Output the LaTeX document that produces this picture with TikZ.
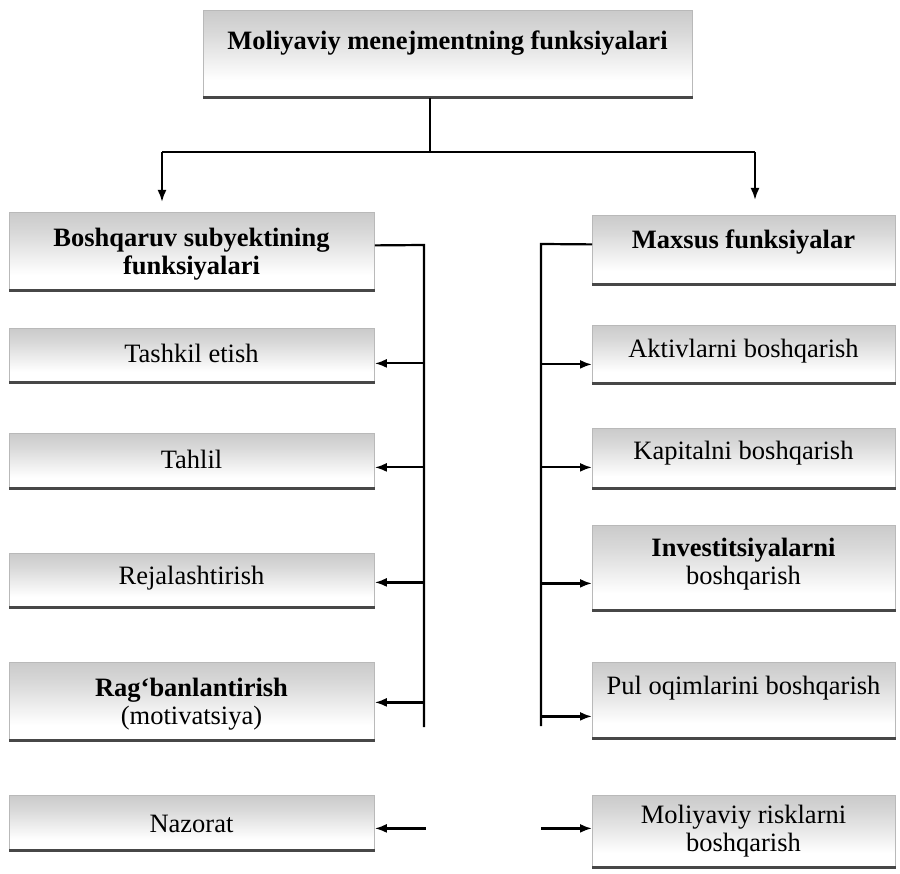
\documentclass[tikz,border=0pt]{standalone}
\usepackage{fontspec}
\setmainfont{Liberation Serif}
\usetikzlibrary{arrows.meta,calc}
\pgfdeclareverticalshading{boxshade}{100bp}{color(0bp)=(white); color(35bp)=(white); color(62bp)=(gray!30); color(85bp)=(gray!50); color(100bp)=(gray!58)}
\tikzset{
  fbox/.style={rectangle, shading=boxshade, draw=gray!55, line width=0.8pt, inner sep=0pt, anchor=north west},
  lbl/.style={font=\fontsize{26.5}{28}\selectfont, align=center, inner sep=0pt, text=black},
  bline/.style={line width=3pt, draw=black!72},
  conn/.style={line width=2.2pt, draw=black},
  arr/.style={conn, -{Latex[length=12pt,width=9pt]}}
}
\begin{document}
\begin{tikzpicture}[x=1pt,y=-1pt]
\useasboundingbox (0,0) rectangle (900,874);
% title
\node[fbox, minimum width=489pt, minimum height=87pt] (T) at (203,10) {};
\node[lbl] (Tt) at (447.5,43) {\bfseries Moliyaviy menejmentning funksiyalari};
% left column
\node[fbox, minimum width=365pt, minimum height=78pt] (L0) at (9,212) {};
\node[fbox, minimum width=365pt, minimum height=54pt] (L1) at (9,328) {};
\node[fbox, minimum width=365pt, minimum height=55pt] (L2) at (9,433) {};
\node[fbox, minimum width=365pt, minimum height=54pt] (L3) at (9,553) {};
\node[fbox, minimum width=365pt, minimum height=78pt] (L4) at (9,662) {};
\node[fbox, minimum width=365pt, minimum height=55pt] (L5) at (9,795) {};
\node[lbl] (L0t) at (191.5,254) {\bfseries Boshqaruv subyektining\\\bfseries funksiyalari};
\node[lbl] (L1t) at (191.5,353) {Tashkil etish};
\node[lbl] (L2t) at (191.5,459) {Tahlil};
\node[lbl] (L3t) at (191.5,578) {Rejalashtirish};
\node[lbl] (L4t) at (191.5,704) {\bfseries Rag`banlantirish\\(motivatsiya)};
\node[lbl] (L5t) at (191.5,824) {Nazorat};
% right column
\node[fbox, minimum width=303pt, minimum height=69pt] (R0) at (592,215) {};
\node[fbox, minimum width=303pt, minimum height=58pt] (R1) at (592,325) {};
\node[fbox, minimum width=303pt, minimum height=60pt] (R2) at (592,428) {};
\node[fbox, minimum width=303pt, minimum height=85pt] (R3) at (592,525) {};
\node[fbox, minimum width=303pt, minimum height=76pt] (R4) at (592,662) {};
\node[fbox, minimum width=303pt, minimum height=72pt] (R5) at (592,795) {};
\node[lbl] (R0t) at (743.5,242) {\bfseries Maxsus funksiyalar};
\node[lbl] (R1t) at (743.5,351) {Aktivlarni boshqarish};
\node[lbl] (R2t) at (743.5,453) {Kapitalni boshqarish};
\node[lbl] (R3t) at (743.5,564) {\bfseries Investitsiyalarni\\boshqarish};
\node[lbl] (R4t) at (743.5,688) {Pul oqimlarini boshqarish};
\node[lbl] (R5t) at (743.5,831) {Moliyaviy risklarni\\boshqarish};
% bottom dark edges
\foreach \n in {T,L0,L1,L2,L3,L4,L5,R0,R1,R2,R3,R4,R5}
  \draw[bline] (\n.south west) -- (\n.south east);
% top connectors
\coordinate (tj) at (430,152);
\coordinate (ta) at (162,152);
\coordinate (tb) at (755,152);
\draw[conn] (T.south -| tj) -- (tj);
\draw[conn] (ta) -- (tb);
\draw[arr, shorten >=10pt] (ta) -- (ta |- L0.north);
\draw[arr, shorten >=15pt] (tb) -- (tb |- R0.north);
% left connector
\coordinate (lt) at (424,245);
\coordinate (lb) at (424,727);
\draw[conn] ($(L0.east)+(0,-6)$) -- (lt) -- (lb);
\draw[arr] ($(L1.east)+(50,8)$) -- ($(L1.east)+(0,8)$);
\draw[arr] ($(L2.east)+(50,6.5)$) -- ($(L2.east)+(0,6.5)$);
\draw[arr] ($(L3.east)+(50,2)$) -- ($(L3.east)+(0,2)$);
\draw[arr] ($(L4.east)+(50,1)$) -- ($(L4.east)+(0,1)$);
\draw[arr] ($(L5.east)+(51,5.5)$) -- ($(L5.east)+(0,5.5)$);
% right connector
\coordinate (rt) at (541,244);
\coordinate (rb) at (541,726);
\draw[conn] ($(R0.west)+(0,-5.5)$) -- (rt) -- (rb);
\draw[arr] ($(R1.west)+(-51,10)$) -- ($(R1.west)+(0,10)$);
\draw[arr] ($(R2.west)+(-51,9)$) -- ($(R2.west)+(0,9)$);
\draw[arr] ($(R3.west)+(-51,15.5)$) -- ($(R3.west)+(0,15.5)$);
\draw[arr] ($(R4.west)+(-51,16)$) -- ($(R4.west)+(0,16)$);
\draw[arr] ($(R5.west)+(-51,-3)$) -- ($(R5.west)+(0,-3)$);
\end{tikzpicture}
\end{document}
